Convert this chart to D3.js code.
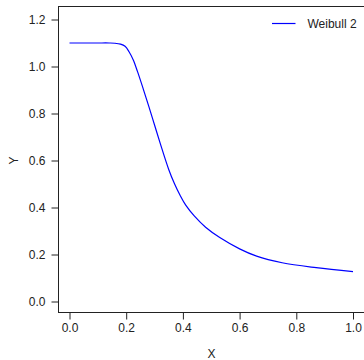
<!DOCTYPE html>
<html>
<head>
<meta charset="utf-8">
<script src="https://cdn.jsdelivr.net/npm/d3@7"></script>
<style>
  html, body { margin: 0; padding: 0; background: #fff; }
  svg { display: block; }
  text { font-family: "Liberation Sans", Arial, sans-serif; font-size: 12px; fill: #222; }
</style>
</head>
<body>
<svg id="chart" width="364" height="360"></svg>
<script>
// Fitted Weibull 2 response curve, sampled along x
const curveX = [0.00, 0.05, 0.10, 0.14, 0.16, 0.18, 0.196, 0.21, 0.225, 0.24, 0.26, 0.28, 0.30, 0.32, 0.35, 0.37, 0.39, 0.41, 0.44, 0.48, 0.53, 0.60, 0.66, 0.75, 0.87, 1.00];
const curveY = [1.100, 1.100, 1.100, 1.100, 1.099, 1.095, 1.086, 1.063, 1.028, 0.978, 0.905, 0.829, 0.751, 0.673, 0.562, 0.502, 0.452, 0.410, 0.364, 0.316, 0.272, 0.224, 0.193, 0.165, 0.144, 0.127];
const xTicks = [0.0, 0.2, 0.4, 0.6, 0.8, 1.0];
const yTicks = [0.0, 0.2, 0.4, 0.6, 0.8, 1.0, 1.2];
const seriesName = "Weibull 2";
const xTitle = "X";
const yTitle = "Y";

const svg = d3.select("#chart");
const box = { left: 58.5, right: 365, top: 6.5, bottom: 312.5 };

const x = d3.scaleLinear().domain([0, 1]).range([69.5, 353]);
const y = d3.scaleLinear().domain([0, 1.2]).range([301.5, 19.5]);

// plot frame
svg.append("rect")
  .attr("x", box.left).attr("y", box.top)
  .attr("width", box.right - box.left).attr("height", box.bottom - box.top)
  .attr("fill", "none").attr("stroke", "#222").attr("stroke-width", 1);

// x axis
const xAxis = svg.append("g").attr("transform", `translate(0,${box.bottom})`)
  .call(d3.axisBottom(x).tickValues(xTicks).tickFormat(d3.format(".1f")).tickSize(7).tickPadding(4));
xAxis.select(".domain").attr("d", `M${x(0)},0H${x(1)}`).attr("stroke", "#222");
xAxis.selectAll(".tick line").attr("stroke", "#222");
xAxis.selectAll("text").style("font-size", "12px").attr("fill", "#222");

// y axis
const yAxis = svg.append("g").attr("transform", `translate(${box.left},0)`)
  .call(d3.axisLeft(y).tickValues(yTicks).tickFormat(d3.format(".1f")).tickSize(7).tickPadding(6));
yAxis.select(".domain").attr("d", `M0,${y(0)}V${y(1.2)}`).attr("stroke", "#222");
yAxis.selectAll(".tick line").attr("stroke", "#222");
yAxis.selectAll("text").style("font-size", "12px").attr("fill", "#222");

// axis titles
svg.append("text").attr("x", 211.5).attr("y", 357.5).attr("text-anchor", "middle").text(xTitle);
svg.append("text")
  .attr("transform", "translate(17.5,160.5) rotate(-90)")
  .attr("text-anchor", "middle").text(yTitle);

// curve
const pts = curveX.map((v, i) => [v, curveY[i]]);
svg.append("path")
  .datum(pts)
  .attr("fill", "none")
  .attr("stroke", "#0000ff")
  .attr("stroke-width", 1.2)
  .attr("d", d3.line().x(d => x(d[0])).y(d => y(d[1])).curve(d3.curveCatmullRom.alpha(0.5)));

// legend
const lg = svg.append("g");
lg.append("line").attr("x1", 272).attr("x2", 295.5).attr("y1", 23.5).attr("y2", 23.5)
  .attr("stroke", "#0000ff").attr("stroke-width", 1.2);
lg.append("text").attr("x", 307.5).attr("y", 27.8).text(seriesName);
</script>
</body>
</html>
